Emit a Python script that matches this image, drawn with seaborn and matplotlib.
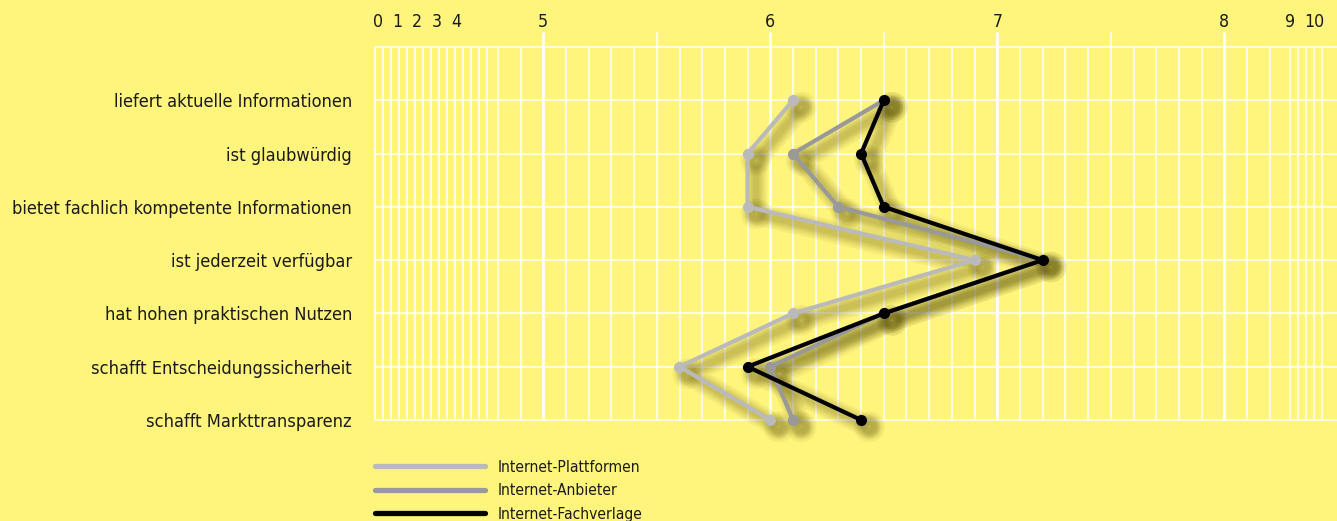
import numpy as np
import pandas as pd
import matplotlib
matplotlib.use("Agg")
import matplotlib.pyplot as plt
import matplotlib.patheffects as pe
from matplotlib import font_manager as fm
from matplotlib.lines import Line2D
import seaborn as sns

# ---------------- data ----------------
categories = [
    "liefert aktuelle Informationen",
    "ist glaubwürdig",
    "bietet fachlich kompetente Informationen",
    "ist jederzeit verfügbar",
    "hat hohen praktischen Nutzen",
    "schafft Entscheidungssicherheit",
    "schafft Markttransparenz",
]
series_names = ["Internet-Plattformen", "Internet-Anbieter", "Internet-Fachverlage"]
plattformen = [6.1, 5.9, 5.9, 6.9, 6.1, 5.6, 6.0]
anbieter = [6.5, 6.1, 6.3, 7.2, 6.5, 6.0, 6.1]
fachverlage = [6.5, 6.4, 6.5, 7.2, 6.5, 5.9, 6.4]
tick_values = [0, 1, 2, 3, 4, 5, 6, 7, 8, 9, 10]
tick_labels = ["0", "1", "2", "3", "4", "5", "6", "7", "8", "9", "10"]

# ---------------- style ----------------
BG = "#fff57d"
TXT = "#1a1a1a"
colors = ["#bababa", "#999999", "#000000"]

sns.set_theme(style="white")


def _is_regular(f):
    w = f.weight
    ok_w = (w in (400, "normal", "regular", "book")) or (isinstance(w, str) and w.lower() in ("normal", "regular", "book"))
    return f.style == "normal" and ok_w


cands = [f for f in fm.fontManager.ttflist if _is_regular(f) and (
    "narrow" in f.name.lower() or "condensed" in f.name.lower()
    or f.stretch in ("condensed", "semi-condensed"))]
if cands:
    FAM, STRETCH = cands[0].name, cands[0].stretch
else:
    FAM, STRETCH = "Lato", "normal"
plt.rcParams["font.family"] = [FAM, "DejaVu Sans"]
plt.rcParams["font.stretch"] = STRETCH

# piecewise axis scale (value -> horizontal position)
KV = np.array([-1, 0, 4, 4.8, 5, 8, 8.2, 9, 10, 12], dtype=float)
KP = np.array([358, 378, 456, 497.9, 543.3, 1224.3, 1269.7, 1290, 1314, 1362], dtype=float)


def fwd(v):
    return np.interp(v, KV, KP)


def inv(p):
    return np.interp(p, KP, KV)


W, H = 1337, 521
fig = plt.figure(figsize=(W / 100, H / 100), dpi=100, facecolor=BG)
renderer = fig.canvas.get_renderer()


def fit_size(text, target_px, base=12.0):
    t = fig.text(0, 0, text, fontsize=base)
    w = t.get_window_extent(renderer).width
    t.remove()
    return base * target_px / w


cat_size = fit_size("bietet fachlich kompetente Informationen", 340)
leg_size = fit_size("Internet-Plattformen", 142)
tick_size = cat_size * 0.97

ax = fig.add_axes([375 / W, (H - 420) / H, (W - 375) / W, (420 - 47) / H])
ax.set_facecolor(BG)
ax.set_xscale("function", functions=(fwd, inv))
x0, x1 = float(inv(375)), float(inv(1337))
ax.set_xlim(x0, x1)
ax.set_ylim(6, -1)
for s in ax.spines.values():
    s.set_visible(False)

# grid
grid_px = (list(375 + 8 * np.arange(15)) + [497.9, 520.6]
           + list(543.3 + 22.7 * np.arange(31))
           + [1247.0, 1269.7, 1290, 1298, 1306, 1314, 1322])
grid_vals = inv(np.array(grid_px))
ax.vlines(grid_vals, -1, 6, colors="white", lw=1.15, zorder=0, clip_on=False)
ax.vlines([5, 6, 7, 8], -1.28, 6, colors="white", lw=2.0, zorder=0, clip_on=False)
ax.vlines([5.5, 6.5, 7.5], -1.28, -1, colors="white", lw=1.15, zorder=0, clip_on=False)
ax.hlines(np.arange(-1, 7), x0, x1, colors="white", lw=1.1, zorder=0, clip_on=False)

# data
df = pd.DataFrame({
    "value": plattformen + anbieter + fachverlage,
    "pos": list(range(len(categories))) * 3,
    "series": [series_names[0]] * 7 + [series_names[1]] * 7 + [series_names[2]] * 7,
})
kw = dict(data=df, x="value", y="pos", hue="series", hue_order=series_names,
          palette=colors, orient="y", sort=False, estimator=None, marker="o",
          markersize=8, markeredgewidth=0, linewidth=3, legend=False, ax=ax)

# shadow pass
n0 = len(ax.lines)
sns.lineplot(**kw)
shadow = [pe.SimpleLineShadow(offset=(6, -5), shadow_color="#4f4600", alpha=0.065, linewidth=w)
          for w in (16, 12.5, 9.5, 7, 4.5)]
for ln in ax.lines[n0:]:
    ln.set_path_effects(shadow)
    ln.set_markersize(6)
    ln.set_clip_on(False)
    ln.set_zorder(2)
# normal pass
n1 = len(ax.lines)
sns.lineplot(**kw)
for ln in ax.lines[n1:]:
    ln.set_clip_on(False)
    ln.set_zorder(3)

ax.set_xlim(x0, x1)
ax.set_ylim(6, -1)

# ticks
ax.xaxis.tick_top()
ax.set_xticks(tick_values, tick_labels)
ax.xaxis.set_minor_locator(matplotlib.ticker.NullLocator())
ax.tick_params(axis="x", length=0, pad=11.5, labelsize=tick_size, labelcolor=TXT)
ax.set_yticks(range(len(categories)), categories)
ax.tick_params(axis="y", length=0, pad=16.5, labelsize=cat_size, labelcolor=TXT)
ax.set_xlabel("")
ax.set_ylabel("")
ax.grid(False)

# legend
leg_px = leg_size * 100 / 72
handles = [Line2D([], [], color=c, lw=3.8) for c in colors]
fig.legend(handles, series_names, loc="upper left",
           bbox_to_anchor=(375 / W, 1 - 459.5 / H), frameon=False, fontsize=leg_size,
           handlelength=110 / leg_px, handletextpad=13 / leg_px, labelspacing=0.55,
           borderpad=0, borderaxespad=0, labelcolor=TXT)

fig.savefig("out.png", dpi=100, facecolor=BG)
